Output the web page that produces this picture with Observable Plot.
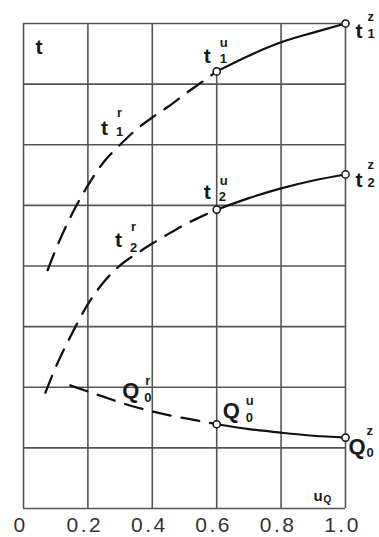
<!DOCTYPE html>
<html><head><meta charset="utf-8">
<script src="https://cdn.jsdelivr.net/npm/d3@7"></script>
<script src="https://cdn.jsdelivr.net/npm/@observablehq/plot@0.6"></script>
<style>
html,body{margin:0;padding:0;background:#fff;}
#chart svg{display:block;}
g[aria-label="x-axis tick label"] text{letter-spacing:2.5px;}
</style></head><body><div id="chart"></div>
<script>
// ---- data ----
const xTicks = [0, 0.2, 0.4, 0.6, 0.8, 1.0];
const xTickLabels = ["0", "0.2", "0.4", "0.6", "0.8", "1.0"];
const yGrid = [0, 1, 2, 3, 4, 5, 6, 7, 8];
const xGridFull = [0, 0.2, 0.4, 0.8, 1.0];

// t1: dashed (r) and solid (u -> z)
const t1rU = [0.075, 0.10, 0.15, 0.20, 0.25, 0.30, 0.35, 0.40, 0.45, 0.50, 0.55, 0.60];
const t1rT = [3.93, 4.27, 4.85, 5.33, 5.72, 6.00, 6.25, 6.45, 6.63, 6.83, 7.02, 7.21];
const t1zU = [0.6, 0.7, 0.8, 0.9, 1.0];
const t1zT = [7.21, 7.47, 7.69, 7.85, 8.00];
// t2
const t2rU = [0.068, 0.10, 0.15, 0.20, 0.25, 0.30, 0.35, 0.40, 0.45, 0.50, 0.55, 0.60];
const t2rT = [1.91, 2.33, 2.88, 3.37, 3.74, 4.01, 4.20, 4.37, 4.53, 4.68, 4.81, 4.93];
const t2zU = [0.6, 0.7, 0.8, 0.9, 1.0];
const t2zT = [4.93, 5.12, 5.28, 5.41, 5.51];
// Q0
const q0rU = [0.145, 0.20, 0.25, 0.30, 0.35, 0.40, 0.45, 0.50, 0.55, 0.60];
const q0rT = [2.03, 1.93, 1.84, 1.75, 1.67, 1.60, 1.54, 1.49, 1.44, 1.39];
const q0zU = [0.6, 0.7, 0.8, 0.9, 1.0];
const q0zT = [1.39, 1.31, 1.25, 1.20, 1.17];

// labels
const seriesMain = ["t", "t", "Q"];
const seriesSub = ["1", "2", "0"];
const pointSup = ["u", "z", "r"];
const yAxisLabel = "t";
const xAxisLabel = "u";
const xAxisLabelSub = "Q";

// ---- build ----
const toPts = (U, T) => U.map((u, i) => ({u, t: T[i]}));
const series = [
  {r: toPts(t1rU, t1rT), z: toPts(t1zU, t1zT), rIdx: 5},
  {r: toPts(t2rU, t2rT), z: toPts(t2zU, t2zT), rIdx: 5},
  {r: toPts(q0rU, q0rT), z: toPts(q0zU, q0zT), rIdx: 4}
];

// label offsets (layout): [main dx,dy, sup dx,dy, sub dx,dy] for u, z, r
const layout = [
  [[-13, -8, 3, -24, 3, -8], [10, 14, 22, -3, 22, 14], [-19, -10, -3, -28, -4, -9]],
  [[-13, -11, 3, -25, 2, -9], [10, 13, 22, -5, 22, 13], [-5, -18, 11, -34, 10, -13]],
  [[6, -6, 29, -19, 29, -2], [3, 16, 21, -3, 21, 19], [-14, -9, 9, -22, 8, -5]]
];

const INK = "#111";
const GRID = "#555";
const marks = [];

marks.push(Plot.ruleY(yGrid, {y: d => d, stroke: GRID, strokeWidth: 1.6}));
marks.push(Plot.ruleX(xGridFull, {x: d => d, y1: yGrid[0], y2: yGrid[yGrid.length - 1], stroke: GRID, strokeWidth: 1.6}));
marks.push(Plot.ruleX([series[0].z[0]], {x: "u", y1: yGrid[0], y2: "t", stroke: GRID, strokeWidth: 1.6}));

series.forEach(s => {
  marks.push(Plot.line(s.r, {x: "u", y: "t", curve: "monotone-x", stroke: INK, strokeWidth: 2.3, strokeDasharray: "18,11"}));
  marks.push(Plot.line(s.z, {x: "u", y: "t", curve: "monotone-x", stroke: INK, strokeWidth: 2.2}));
  marks.push(Plot.dot([s.z[0], s.z[s.z.length - 1]], {x: "u", y: "t", r: 3.6, fill: "white", stroke: INK, strokeWidth: 1.5}));
});

const txt = (pt, text, dx, dy, size) => Plot.text([pt], {
  x: "u", y: "t", text: () => text, dx, dy, fontSize: size, fontWeight: "bold",
  textAnchor: "start", lineAnchor: "bottom", fill: "#1a1a1a"
});

series.forEach((s, si) => {
  const anchors = [s.z[0], s.z[s.z.length - 1], s.r[s.rIdx]];
  anchors.forEach((pt, pi) => {
    const L = layout[si][pi];
    marks.push(txt(pt, seriesMain[si], L[0], L[1], si === 2 ? 22 : 21));
    marks.push(txt(pt, pointSup[pi], L[2], L[3], 13));
    marks.push(txt(pt, seriesSub[si], L[4], L[5], 13));
  });
});

// axis titles
marks.push(txt({u: xTicks[0], t: yGrid[yGrid.length - 1]}, yAxisLabel, 12, 30, 21));
marks.push(txt({u: xTicks[xTicks.length - 1], t: yGrid[0]}, xAxisLabel, -32, -8, 15));
marks.push(txt({u: xTicks[xTicks.length - 1], t: yGrid[0]}, xAxisLabelSub, -22, -6, 10));

marks.push(Plot.axisX({ticks: xTicks, tickFormat: d => xTickLabels[xTicks.indexOf(d)], tickSize: 0, tickPadding: 9, fontSize: 21, dx: -3, label: null}));

const chart = Plot.plot({
  width: 379, height: 537,
  marginLeft: 23, marginRight: 34, marginTop: 23, marginBottom: 29,
  x: {domain: [0, 1]},
  y: {domain: [0, 8], axis: null},
  style: {fontFamily: "'Liberation Sans', Arial, sans-serif", color: "#333", background: "#fff", overflow: "visible"},
  marks
});
document.getElementById("chart").appendChild(chart);
</script></body></html>
